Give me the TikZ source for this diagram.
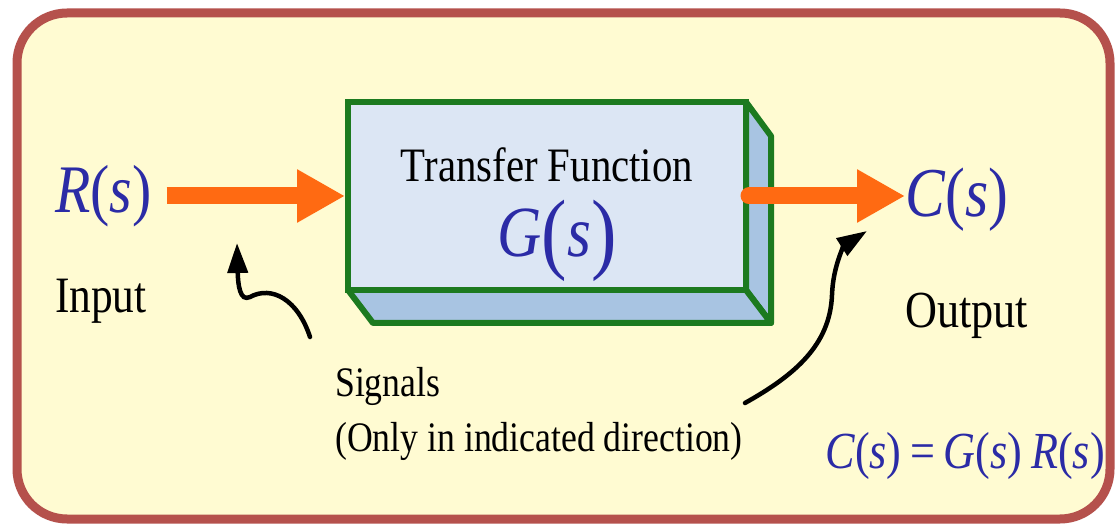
\documentclass[tikz,border=0pt]{standalone}
\usepackage{fontspec}
\setmainfont{Liberation Serif}
\newfontfamily\txtf{Liberation Serif}[FakeStretch=0.85]
\newfontfamily\mthf{Liberation Serif}[FakeStretch=0.85]
\usetikzlibrary{arrows.meta}
\definecolor{bordc}{HTML}{B5514C}
\definecolor{bgc}{HTML}{FFFBD2}
\definecolor{boxgreen}{HTML}{1C7A1F}
\definecolor{frontc}{HTML}{DCE6F4}
\definecolor{sidec}{HTML}{A8C4E2}
\definecolor{sigorange}{HTML}{FF6A12}
\definecolor{mblue}{HTML}{2B2BA6}
\newcommand\mi[1]{\textit{#1}}
\tikzset{
  mathtxt/.style={text=mblue, inner sep=0pt},
  plaintxt/.style={text=black, inner sep=0pt},
  sigarrow/.style={sigorange, line width=17, -{Triangle[length=48,width=50]}},
  hint/.style={black, line width=4.5, line cap=round, -{Triangle[length=30,width=20]}},
  face/.style={fill=sidec, draw=boxgreen, line width=6, line join=round}
}
\begin{document}
\begin{tikzpicture}[x=1pt,y=-1pt]
\useasboundingbox (0,0) rectangle (1120,529);
\fill[white] (0,0) rectangle (1120,529);
\draw[bordc, line width=9, fill=bgc, rounded corners=50] (17,13) rectangle (1110,519);

% 3D box sides
\draw[face] (746,102) -- (771,136) -- (771,323) -- (746,290) -- cycle;
\draw[face] (348,290) -- (373,323) -- (771,323) -- (746,290) -- cycle;
% front face
\node[draw=boxgreen, line width=6, fill=frontc, minimum width=398, minimum height=188, inner sep=0] (tf) at (547,196) {};

\node[plaintxt, anchor=base, font=\txtf\fontsize{48}{48}\selectfont] (tft) at (547,182) {Transfer Function};
\node[mathtxt, anchor=base, font=\mthf\fontsize{72}{72}\selectfont] (Gs) at (557,257) {\mi{G}\raisebox{-6pt}{\fontsize{90}{90}\selectfont(}\mi{s}\raisebox{-6pt}{\fontsize{90}{90}\selectfont)}};

\node[mathtxt, anchor=base west, font=\mthf\fontsize{68}{68}\selectfont] (Rs) at (55,213) {\mi{R}(\mi{s})};
\node[plaintxt, anchor=base west, font=\txtf\fontsize{51}{51}\selectfont] (inp) at (55,313) {Input};

\node[mathtxt, anchor=base west, font=\mthf\fontsize{70}{70}\selectfont] (Cs) at (905,217) {\mi{C}(\mi{s})};
\node[plaintxt, anchor=base west, font=\txtf\fontsize{52}{52}\selectfont] (outp) at (905,328) {Output};

\node[plaintxt, anchor=base west, font=\txtf\fontsize{42}{42}\selectfont] (sig1) at (335,397) {Signals};
\node[plaintxt, anchor=base west, font=\txtf\fontsize{42}{42}\selectfont] (sig2) at (335,451) {(Only in indicated direction)};

\node[mathtxt, anchor=base east, font=\mthf\fontsize{52}{52}\selectfont] (eq) at (1105,468) {\mi{C}(\mi{s})\,=\,\mi{G}(\mi{s})\,\mi{R}(\mi{s})};

% orange signal arrows
\draw[sigarrow] ([xshift=15]Rs.east |- tf.west) -- (tf.west);
\draw[sigarrow, line cap=round] (tf.east) -- (tf.east -| Cs.west);

% black pointer arrows
\coordinate (h1s) at (310,337);
\coordinate (h1e) at (237,243);
\coordinate (h2s) at (745,403);
\coordinate (h2e) at (867,231);
\draw[hint] (h1s) .. controls (298,300) and (272,285) .. (250,297)
  .. controls (240,302) and (238,285) .. (h1e);
\draw[hint] (h2s) .. controls (795,375) and (830,345) .. (832,295)
  .. controls (833,265) and (845,245) .. (h2e);
\end{tikzpicture}
\end{document}
